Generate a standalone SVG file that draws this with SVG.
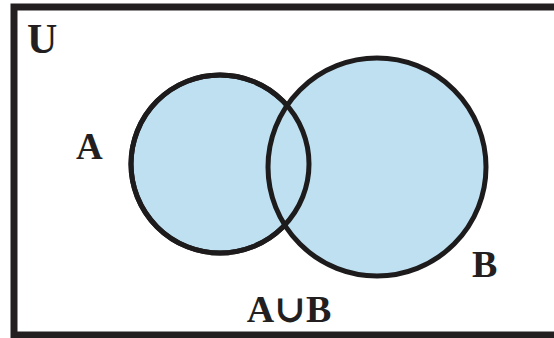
<svg xmlns="http://www.w3.org/2000/svg" width="554" height="338" viewBox="0 0 554 338">
<style>
.lbl{font-family:"Liberation Serif","DejaVu Serif",serif;font-weight:bold;fill:#231f20}
.set{fill:#bfe0f1;stroke:#1d1b1c;stroke-width:5}
</style>
<rect x="0" y="0" width="554" height="338" fill="#ffffff"/>
<g id="universe">
<rect x="14" y="7" width="600" height="328" fill="none" stroke="#231f20" stroke-width="7"/>
<text class="lbl" x="27" y="53" font-size="42">U</text>
</g>
<g id="setA">
<circle class="set" cx="220" cy="164" r="89"/>
</g>
<g id="setB">
<circle class="set" cx="377" cy="167" r="109"/>
</g>
<g id="outlineA">
<circle cx="220" cy="164" r="89" fill="none" stroke="#1d1b1c" stroke-width="5"/>
</g>
<g id="labels">
<text class="lbl" x="76" y="159" font-size="37">A</text>
<text class="lbl" x="472" y="277" font-size="38">B</text>
<text class="lbl" x="289" y="322" font-size="38" text-anchor="middle">A∪B</text>
</g>
<g id="connectors"></g>
</svg>
